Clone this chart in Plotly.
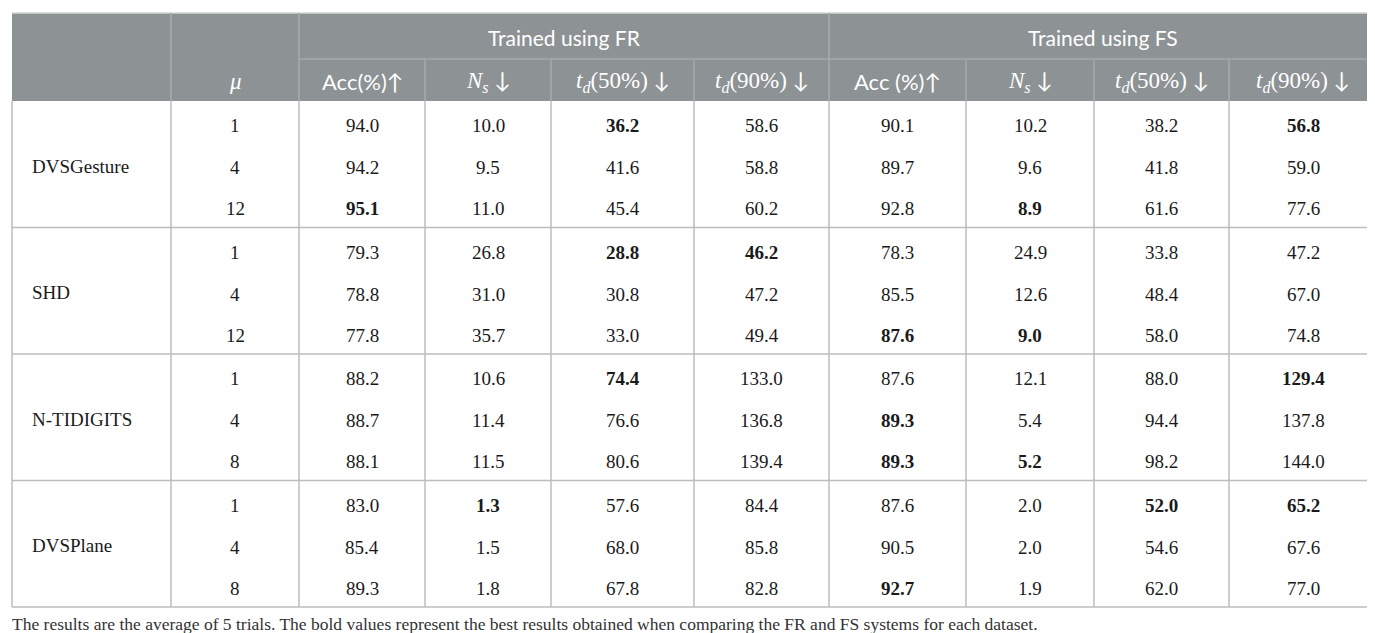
import plotly.graph_objects as go

# table contents
datasets = ["DVSGesture", "SHD", "N-TIDIGITS", "DVSPlane"]
mu_values = [1, 4, 12, 1, 4, 12, 1, 4, 8, 1, 4, 8]

fr_acc = [94.0, 94.2, 95.1, 79.3, 78.8, 77.8, 88.2, 88.7, 88.1, 83.0, 85.4, 89.3]
fr_ns = [10.0, 9.5, 11.0, 26.8, 31.0, 35.7, 10.6, 11.4, 11.5, 1.3, 1.5, 1.8]
fr_td50 = [36.2, 41.6, 45.4, 28.8, 30.8, 33.0, 74.4, 76.6, 80.6, 57.6, 68.0, 67.8]
fr_td90 = [58.6, 58.8, 60.2, 46.2, 47.2, 49.4, 133.0, 136.8, 139.4, 84.4, 85.8, 82.8]
fs_acc = [90.1, 89.7, 92.8, 78.3, 85.5, 87.6, 87.6, 89.3, 89.3, 87.6, 90.5, 92.7]
fs_ns = [10.2, 9.6, 8.9, 24.9, 12.6, 9.0, 12.1, 5.4, 5.2, 2.0, 2.0, 1.9]
fs_td50 = [38.2, 41.8, 61.6, 33.8, 48.4, 58.0, 88.0, 94.4, 98.2, 52.0, 54.6, 62.0]
fs_td90 = [56.8, 59.0, 77.6, 47.2, 67.0, 74.8, 129.4, 137.8, 144.0, 65.2, 67.6, 77.0]

# (row, column) of the bold entries, columns counted from fr_acc = 0
bold_cells = [(0, 2), (0, 7), (2, 0), (2, 5),
              (3, 2), (3, 3), (5, 4), (5, 5),
              (6, 2), (6, 7), (7, 4), (8, 4), (8, 5),
              (9, 1), (9, 6), (9, 7), (11, 4)]

group_titles = ["Trained using FR", "Trained using FS"]
SERIF = "Liberation Serif"
SANS = "Lato"


def serif(s):
    return f'<span style="font-family:{SERIF};font-size:23px">{s}</span>'


col_titles = [
    serif("<i>μ</i>"),
    "Acc(%)↑",
    serif("<i>N<sub>s</sub></i>") + " ↓",
    serif("<i>t<sub>d</sub></i>(50%)") + " ↓",
    serif("<i>t<sub>d</sub></i>(90%)") + " ↓",
    "Acc (%)↑",
    serif("<i>N<sub>s</sub></i>") + " ↓",
    serif("<i>t<sub>d</sub></i>(50%)") + " ↓",
    serif("<i>t<sub>d</sub></i>(90%)") + " ↓",
]
footnote = ("The results are the average of 5 trials. The bold values represent the best "
            "results obtained when comparing the FR and FS systems for each dataset.")

# layout geometry (pixels)
W, H = 1375, 633
col_edges = [4, 163, 291, 417, 543, 686, 821, 958, 1086, 1221, 1369]
head_top, head_mid, head_bot = 5, 51, 93
group_h = 126.5
row_off = [24.5, 66.5, 107.5]
table_bot = head_bot + 4 * group_h

HEAD_BG = "#8d9294"
HEAD_LINE = "#a6aaac"
BODY_LINE = "#bcbcbc"
TEXT = "#1a1a1a"

columns = [fr_acc, fr_ns, fr_td50, fr_td90, fs_acc, fs_ns, fs_td50, fs_td90]

fig = go.Figure()
shapes = []
annotations = []

# header block
shapes.append(dict(type="rect", x0=col_edges[0], x1=col_edges[-1], y0=head_top, y1=head_bot,
                   fillcolor=HEAD_BG, line_width=0, layer="below"))
shapes.append(dict(type="line", x0=col_edges[0], x1=col_edges[-1], y0=head_top, y1=head_top,
                   line=dict(color="#d4d6d7", width=1.5)))
for i, x in enumerate(col_edges[1:-1], start=1):
    full = i in (1, 2, 6)
    shapes.append(dict(type="line", x0=x, x1=x, y0=head_top if full else head_mid, y1=head_bot,
                       line=dict(color=HEAD_LINE, width=1.5)))
shapes.append(dict(type="line", x0=col_edges[2], x1=col_edges[-1], y0=head_mid, y1=head_mid,
                   line=dict(color=HEAD_LINE, width=1.5)))

# body grid
for x in col_edges:
    shapes.append(dict(type="line", x0=x, x1=x, y0=head_bot, y1=table_bot,
                       line=dict(color=BODY_LINE, width=1.5)))
for g in range(1, 5):
    y = head_bot + g * group_h
    shapes.append(dict(type="line", x0=col_edges[0], x1=col_edges[-1], y0=y, y1=y,
                       line=dict(color=BODY_LINE, width=1.5)))

# header texts
for k, title in enumerate(group_titles):
    xa, xb = (col_edges[2], col_edges[6]) if k == 0 else (col_edges[6], col_edges[10])
    annotations.append(dict(x=(xa + xb) / 2, y=(head_top + head_mid) / 2 + 1, text=title,
                            showarrow=False, font=dict(family=SANS, size=21, color="white")))
for j, title in enumerate(col_titles):
    xc = (col_edges[j + 1] + col_edges[j + 2]) / 2
    annotations.append(dict(x=xc, y=(head_mid + head_bot) / 2 + 1, text=title,
                            showarrow=False, font=dict(family=SANS, size=22, color="white")))

# body texts
body_font = dict(family=SERIF, size=19, color=TEXT)
for g, name in enumerate(datasets):
    top = head_bot + g * group_h
    annotations.append(dict(x=col_edges[0] + 18, y=top + 65, text=name, xanchor="left",
                            showarrow=False, font=body_font))
    for r in range(3):
        row = g * 3 + r
        y = top + row_off[r]
        annotations.append(dict(x=(col_edges[1] + col_edges[2]) / 2, y=y, text=str(mu_values[row]),
                                showarrow=False, font=body_font))
        for c, vals in enumerate(columns):
            txt = f"{vals[row]:.1f}"
            if (row, c) in bold_cells:
                txt = f"<b>{txt}</b>"
            xc = (col_edges[c + 2] + col_edges[c + 3]) / 2
            annotations.append(dict(x=xc, y=y, text=txt, showarrow=False, font=body_font))

annotations.append(dict(x=2, y=table_bot + 17, text=footnote, xanchor="left", showarrow=False,
                        font=dict(family=SERIF, size=17.5, color="#333333")))

fig.update_layout(
    width=W, height=H,
    margin=dict(l=0, r=0, t=0, b=0),
    paper_bgcolor="white", plot_bgcolor="white",
    xaxis=dict(range=[0, W], visible=False, fixedrange=True),
    yaxis=dict(range=[H, 0], visible=False, fixedrange=True),
    shapes=shapes, annotations=annotations, showlegend=False,
)

fig.write_html("out.html")
